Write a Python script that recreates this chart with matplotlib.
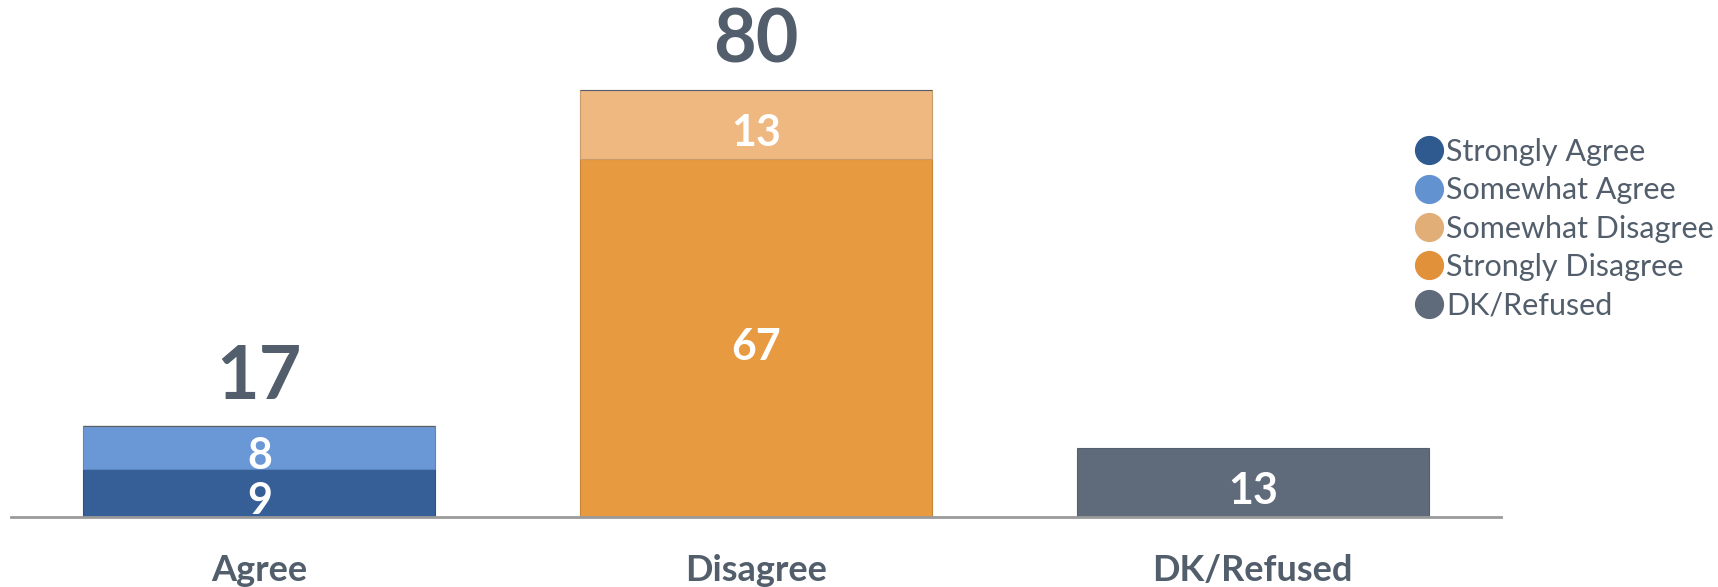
import matplotlib
matplotlib.use("Agg")
import matplotlib.pyplot as plt
from matplotlib.lines import Line2D
import numpy as np

# data
categories = ["Agree", "Disagree", "DK/Refused"]
series_names = ["Strongly Agree", "Somewhat Agree", "Somewhat Disagree",
                "Strongly Disagree", "DK/Refused"]
strongly_agree = [9, 0, 0]
somewhat_agree = [8, 0, 0]
somewhat_disagree = [0, 13, 0]
strongly_disagree = [0, 67, 0]
dk_refused = [0, 0, 13]
totals = [17, 80, None]   # no total shown above DK/Refused

# styles
TEXT = "#525e6b"
bar_colors = {
    "Strongly Agree": "#355f96",
    "Somewhat Agree": "#6a98d6",
    "Somewhat Disagree": "#eeb880",
    "Strongly Disagree": "#e89a40",
    "DK/Refused": "#5f6b7a",
}
legend_colors = {
    "Strongly Agree": "#2f5a8f",
    "Somewhat Agree": "#6392d0",
    "Somewhat Disagree": "#e2ae78",
    "Strongly Disagree": "#e0913a",
    "DK/Refused": "#5f6b7a",
}
edge_colors = {
    "Strongly Agree": "#2e5382",
    "Somewhat Agree": "#5a86c0",
    "Somewhat Disagree": "#c99a6a",
    "Strongly Disagree": "#c8853a",
    "DK/Refused": "#56606d",
}

plt.rcParams['font.family'] = ['Lato', 'DejaVu Sans']

fig = plt.figure(figsize=(17.18, 5.87), dpi=100)
fig.patch.set_facecolor("white")
ax = fig.add_axes([0.0064, 0.1193, 0.8673, 0.8807])
ax.set_facecolor("none")

x = np.arange(len(categories))
width = 0.709

# stack order bottom -> top
stack = [
    ("Strongly Agree", strongly_agree),
    ("Somewhat Agree", somewhat_agree),
    ("Strongly Disagree", strongly_disagree),
    ("Somewhat Disagree", somewhat_disagree),
    ("DK/Refused", dk_refused),
]
bottom = np.zeros(len(categories))
for name, vals in stack:
    vals = np.array(vals, dtype=float)
    ax.bar(x, vals, width, bottom=bottom, color=bar_colors[name],
           edgecolor=edge_colors[name], linewidth=0.8, zorder=2)
    for i, v in enumerate(vals):
        if v > 0:
            ax.text(x[i], bottom[i] + v / 2 - 1.6, f"{int(v)}", ha="center", va="center",
                    color="white", fontsize=31, fontweight="bold", zorder=5)
    bottom += vals

for i, t in enumerate(totals):
    if t is None:
        continue
    ax.text(x[i], t + 9.2, f"{t}", ha="center", va="center", color=TEXT,
            fontsize=53, fontweight="bold")

ax.set_xlim(-0.5, 2.5)
ax.set_ylim(0, 96.8)
ax.set_yticks([])
for s in ["top", "right", "left"]:
    ax.spines[s].set_visible(False)
ax.spines["bottom"].set_color("#9a9a9a")
ax.spines["bottom"].set_linewidth(2)
ax.spines["bottom"].set_zorder(4)
ax.set_xticks(x)
ax.set_xticklabels(categories, fontsize=26, fontweight="bold", color=TEXT)
ax.tick_params(axis="x", length=0, pad=27)

handles = [Line2D([0], [0], marker="o", linestyle="none", markersize=20,
                  markerfacecolor=legend_colors[n], markeredgecolor=legend_colors[n])
           for n in series_names]
fig.legend(handles, series_names, loc="upper left", bbox_to_anchor=(0.824, 0.765),
           frameon=False, fontsize=22, labelcolor=TEXT, handlelength=0.9,
           handletextpad=0.1, labelspacing=0.34, borderpad=0, borderaxespad=0)

fig.savefig("out.png", dpi=100, facecolor="white")
